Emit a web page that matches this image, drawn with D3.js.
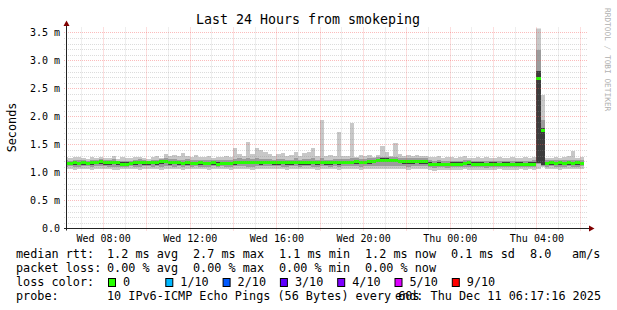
<!DOCTYPE html>
<html>
<head>
<meta charset="utf-8">
<script src="https://cdn.jsdelivr.net/npm/d3@7"></script>
<style>
  body { margin: 0; background: #fff; }
  text { font-family: "DejaVu Sans Mono", monospace; fill: #000; }
</style>
</head>
<body>
<div id="chart"></div>
<script>
// time window of the graph, 12 minute consolidation steps
var startTime = new Date(2025, 11, 10, 6, 17, 16),
    endTime = new Date(2025, 11, 11, 6, 17, 16),
    firstBin = new Date(2025, 11, 10, 6, 12, 0),
    stepMinutes = 12;

// smoke bands (ms): outer, middle, inner, and the median
var pingMax = [1.27,1.25,1.28,1.27,1.26,1.24,1.27,1.25, 1.28,1.26,1.25,1.29,1.24,1.27,1.26,1.25,
  1.27,1.28,1.26,1.24,1.27,1.29,1.26,1.33, 1.30,1.31,1.29,1.35,1.30,1.28,1.32,1.27,
  1.27,1.29,1.26,1.28,1.27,1.30,1.28,1.44, 1.33,1.30,1.55,1.33,1.44,1.41,1.37,1.33,
  1.30,1.33,1.35,1.29,1.31,1.36,1.30,1.34, 1.36,1.44,1.30,1.94,1.29,1.31,1.29,1.72,
  1.30,1.29,1.89,1.28,1.31,1.30,1.32,1.28, 1.31,1.48,1.36,1.29,1.52,1.33,1.30,1.31,
  1.30,1.31,1.29,1.30,1.28,1.27,1.29,1.26, 1.27,1.28,1.26,1.27,1.29,1.26,1.25,1.27,
  1.26,1.27,1.25,1.26,1.28,1.25,1.26,1.27, 1.26,1.25,1.27,1.26,1.28,3.58,2.38,1.26,
  1.25,1.27,1.26,1.28,1.29,1.38,1.26,1.27];
var pingHigh = [1.22,1.21,1.23,1.22,1.22,1.21,1.23,1.22, 1.24,1.22,1.22,1.24,1.21,1.21,1.21,1.21,
  1.23,1.24,1.22,1.21,1.23,1.23,1.24,1.26, 1.24,1.24,1.23,1.23,1.24,1.22,1.22,1.23,
  1.22,1.23,1.22,1.22,1.22,1.23,1.22,1.24, 1.25,1.24,1.25,1.24,1.25,1.24,1.24,1.24,
  1.23,1.24,1.24,1.23,1.23,1.25,1.23,1.24, 1.24,1.25,1.23,1.25,1.23,1.23,1.24,1.24,
  1.24,1.24,1.25,1.25,1.24,1.24,1.25,1.26, 1.27,1.28,1.28,1.27,1.27,1.26,1.25,1.25,
  1.25,1.26,1.25,1.25,1.22,1.21,1.22,1.20, 1.20,1.21,1.21,1.21,1.22,1.23,1.21,1.21,
  1.21,1.20,1.21,1.21,1.20,1.21,1.21,1.20, 1.21,1.21,1.20,1.21,1.22,3.18,1.94,1.22,
  1.23,1.22,1.23,1.22,1.23,1.23,1.23,1.22];
var pingInnerHigh = [1.19,1.19,1.20,1.19,1.20,1.19,1.20,1.21, 1.22,1.20,1.20,1.21,1.20,1.18,1.18,1.19,
  1.20,1.21,1.20,1.20,1.21,1.20,1.22,1.23, 1.20,1.21,1.20,1.19,1.20,1.19,1.19,1.20,
  1.19,1.19,1.20,1.18,1.19,1.19,1.19,1.20, 1.21,1.21,1.21,1.21,1.21,1.20,1.21,1.21,
  1.20,1.20,1.21,1.20,1.20,1.21,1.20,1.20, 1.20,1.21,1.20,1.21,1.20,1.20,1.21,1.20,
  1.21,1.21,1.21,1.22,1.21,1.21,1.22,1.23, 1.24,1.25,1.25,1.24,1.24,1.23,1.22,1.22,
  1.22,1.23,1.22,1.22,1.18,1.17,1.18,1.17, 1.17,1.18,1.18,1.18,1.19,1.20,1.18,1.18,
  1.18,1.17,1.18,1.18,1.17,1.18,1.18,1.17, 1.18,1.18,1.17,1.18,1.18,2.82,1.80,1.19,
  1.20,1.19,1.20,1.19,1.20,1.19,1.20,1.19];
var median = [1.16,1.16,1.17,1.16,1.17,1.16,1.17,1.18, 1.19,1.17,1.17,1.18,1.17,1.15,1.15,1.16,
  1.17,1.18,1.17,1.17,1.18,1.17,1.19,1.20, 1.17,1.18,1.17,1.16,1.17,1.16,1.16,1.17,
  1.16,1.16,1.17,1.15,1.16,1.16,1.16,1.17, 1.18,1.18,1.18,1.18,1.18,1.17,1.18,1.18,
  1.17,1.17,1.18,1.17,1.17,1.18,1.17,1.17, 1.17,1.18,1.17,1.18,1.17,1.17,1.18,1.17,
  1.18,1.18,1.18,1.19,1.18,1.18,1.19,1.20, 1.21,1.22,1.22,1.21,1.21,1.20,1.19,1.19,
  1.19,1.20,1.19,1.19,1.15,1.14,1.15,1.14, 1.14,1.15,1.15,1.15,1.16,1.17,1.15,1.15,
  1.15,1.14,1.15,1.15,1.14,1.15,1.15,1.14, 1.15,1.15,1.14,1.15,1.15,2.67,1.75,1.16,
  1.17,1.16,1.17,1.16,1.17,1.16,1.17,1.16];
var pingInnerLow = [1.13,1.13,1.14,1.13,1.14,1.13,1.14,1.15, 1.16,1.14,1.14,1.15,1.14,1.12,1.12,1.13,
  1.14,1.15,1.14,1.14,1.15,1.14,1.16,1.17, 1.14,1.15,1.14,1.13,1.14,1.13,1.13,1.14,
  1.13,1.13,1.14,1.12,1.13,1.13,1.13,1.14, 1.15,1.15,1.15,1.15,1.15,1.14,1.15,1.15,
  1.14,1.14,1.15,1.14,1.14,1.15,1.14,1.14, 1.14,1.15,1.14,1.15,1.14,1.14,1.15,1.14,
  1.15,1.15,1.15,1.16,1.15,1.15,1.16,1.17, 1.18,1.19,1.19,1.18,1.18,1.17,1.16,1.16,
  1.16,1.17,1.16,1.16,1.12,1.11,1.12,1.11, 1.11,1.12,1.12,1.12,1.13,1.14,1.12,1.12,
  1.12,1.11,1.12,1.12,1.11,1.12,1.12,1.11, 1.12,1.12,1.11,1.12,1.12,1.17,1.13,1.13,
  1.14,1.13,1.14,1.13,1.14,1.13,1.14,1.13];
var pingLow = [1.10,1.11,1.10,1.10,1.11,1.11,1.10,1.11, 1.11,1.11,1.10,1.09,1.10,1.10,1.10,1.11,
  1.10,1.10,1.11,1.11,1.10,1.11,1.10,1.11, 1.11,1.10,1.11,1.10,1.11,1.10,1.11,1.10,
  1.10,1.10,1.11,1.10,1.11,1.10,1.10,1.11, 1.11,1.11,1.10,1.10,1.11,1.11,1.11,1.11,
  1.11,1.11,1.10,1.10,1.11,1.11,1.10,1.11, 1.11,1.10,1.10,1.11,1.11,1.10,1.11,1.10,
  1.11,1.11,1.11,1.11,1.10,1.11,1.11,1.12, 1.11,1.12,1.12,1.11,1.12,1.11,1.11,1.10,
  1.11,1.11,1.12,1.11,1.09,1.08,1.09,1.09, 1.08,1.09,1.09,1.09,1.10,1.10,1.09,1.09,
  1.09,1.08,1.09,1.09,1.10,1.09,1.09,1.09, 1.09,1.10,1.09,1.10,1.09,1.15,1.12,1.10,
  1.11,1.10,1.10,1.10,1.11,1.10,1.10,1.11];
var pingMin = [1.06,1.07,1.05,1.06,1.06,1.07,1.05,1.06, 1.06,1.07,1.06,1.04,1.05,1.06,1.06,1.07,
  1.06,1.05,1.06,1.07,1.06,1.06,1.05,1.06, 1.07,1.06,1.06,1.05,1.06,1.06,1.07,1.06,
  1.06,1.05,1.06,1.06,1.07,1.06,1.05,1.06, 1.07,1.06,1.06,1.05,1.06,1.06,1.07,1.06,
  1.06,1.07,1.06,1.05,1.06,1.06,1.06,1.07, 1.06,1.06,1.05,1.06,1.07,1.06,1.06,1.05,
  1.06,1.07,1.06,1.06,1.05,1.06,1.06,1.07, 1.06,1.07,1.07,1.06,1.07,1.06,1.06,1.05,
  1.06,1.06,1.07,1.06,1.04,1.03,1.04,1.05, 1.04,1.05,1.04,1.05,1.06,1.05,1.04,1.05,
  1.05,1.04,1.05,1.05,1.06,1.05,1.04,1.05, 1.05,1.06,1.05,1.06,1.05,1.06,1.10,1.06,
  1.07,1.06,1.05,1.06,1.07,1.06,1.06,1.07];

// axis labels
var yTicks = [0, 0.5, 1.0, 1.5, 2.0, 2.5, 3.0, 3.5];
var yTickLabels = ["0.0", "0.5 m", "1.0 m", "1.5 m", "2.0 m", "2.5 m", "3.0 m", "3.5 m"];
var xTickLabels = ["Wed 08:00", "Wed 12:00", "Wed 16:00", "Wed 20:00", "Thu 00:00", "Thu 04:00"];
var yMax = 3.5714;

// legend
var rttStats = ["1.2 ms avg", "2.7 ms max", "1.1 ms min", "1.2 ms now", "0.1 ms sd"];
var lossStats = ["0.00 % avg", "0.00 % max", "0.00 % min", "0.00 % now"];
var lossLabels = ["0", "1/10", "2/10", "3/10", "4/10", "5/10", "9/10"];
var lossColors = ["#26ff00", "#00b8ff", "#0059ff", "#5e00ff", "#7e00ff", "#dd00ff", "#ff0000"];

var width = 617, height = 310;

var svg = d3.select("#chart")
    .append("svg")
    .attr("width", width)
    .attr("height", height);

var x = d3.scaleTime().domain([startTime, endTime]).range([66, 586]);
var y = d3.scaleLinear().domain([0, yMax]).range([228.5, 28.5]);

function binStart(i) { return new Date(firstBin.getTime() + i * stepMinutes * 60000); }

svg.append("clipPath").attr("id", "plot")
  .append("rect").attr("x", 66).attr("y", 28.5).attr("width", 520).attr("height", 200);

var data = median.map(function (m, i) {
  return { t0: binStart(i), t1: binStart(i + 1), max: pingMax[i], high: pingHigh[i],
           ih: pingInnerHigh[i], med: m, il: pingInnerLow[i], low: pingLow[i], min: pingMin[i] };
});

var smoke = svg.append("g").attr("clip-path", "url(#plot)").attr("shape-rendering", "crispEdges");

function band(lo, hi, color) {
  smoke.selectAll(null)
    .data(data)
    .enter()
    .append("rect")
    .attr("x", function (d) { return x(d.t0); })
    .attr("width", function (d) { return x(d.t1) - x(d.t0); })
    .attr("y", function (d) { return y(d[hi]); })
    .attr("height", function (d) { return y(d[lo]) - y(d[hi]); })
    .attr("fill", color);
}
band("min", "max", "#c8c8c8");
band("low", "high", "#9c9c9c");
band("il", "ih", "#3c3c3c");

// median, coloured by loss (all zero here)
smoke.selectAll(null)
  .data(data)
  .enter()
  .append("rect")
  .attr("x", function (d) { return x(d.t0); })
  .attr("width", function (d) { return x(d.t1) - x(d.t0); })
  .attr("y", function (d) { return y(d.med) - 1.5; })
  .attr("height", 3)
  .attr("fill", lossColors[0]);

// grid on top, like rrdtool
var minorColor = "rgba(140,140,140,0.3)", majorColor = "rgba(245,79,79,0.38)";
var grid = svg.append("g");
var minorY = d3.range(1, 36).map(function (v) { return v / 10; }).filter(function (v) { return v <= yMax; });
grid.selectAll(null).data(minorY).enter().append("line")
  .attr("x1", 64).attr("x2", 588)
  .attr("y1", function (d) { return Math.round(y(d)) + 0.5; })
  .attr("y2", function (d) { return Math.round(y(d)) + 0.5; })
  .attr("stroke", function (d) { return Math.abs(d * 2 - Math.round(d * 2)) < 1e-6 ? majorColor : minorColor; })
  .attr("stroke-dasharray", "1 1");

var hours = d3.timeHour.range(startTime, endTime);
grid.selectAll(null).data(hours).enter().append("line")
  .attr("x1", function (d) { return Math.round(x(d)) + 0.5; })
  .attr("x2", function (d) { return Math.round(x(d)) + 0.5; })
  .attr("y1", 230.5).attr("y2", 26.5)
  .attr("stroke", function (d) { return d.getHours() % 2 === 0 ? majorColor : minorColor; })
  .attr("stroke-dasharray", "1 1");

// axes
svg.append("line").attr("x1", 66.5).attr("x2", 66.5).attr("y1", 230.5).attr("y2", 24)
  .attr("stroke", "#222");
svg.append("line").attr("x1", 64).attr("x2", 590).attr("y1", 228.5).attr("y2", 228.5)
  .attr("stroke", "#222");
svg.append("path").attr("d", "M63.5,26L66.5,20.5L69.5,26Z").attr("fill", "#800000");
svg.append("path").attr("d", "M589,225.5L594.5,228.5L589,231.5Z").attr("fill", "#800000");

// y tick labels
svg.selectAll(null).data(yTicks).enter().append("text")
  .attr("x", 60)
  .attr("y", function (d) { return y(d) + 3.5; })
  .attr("text-anchor", "end")
  .style("font-size", "10px")
  .text(function (d, i) { return yTickLabels[i]; });

// x tick labels every 4 hours
var labelHours = hours.filter(function (d) { return d.getHours() % 4 === 0; });
svg.selectAll(null).data(labelHours).enter().append("text")
  .attr("x", function (d) { return x(d) + 0.5; })
  .attr("y", 242)
  .attr("text-anchor", "middle")
  .style("font-size", "10px")
  .text(function (d, i) { return xTickLabels[i]; });

// titles
svg.append("text").attr("x", 308).attr("y", 24).attr("text-anchor", "middle")
  .style("font-size", "13.3px").text("Last 24 Hours from smokeping");
svg.append("text").attr("transform", "translate(15.5,127.5) rotate(-90)").attr("text-anchor", "middle")
  .style("font-size", "11.8px").text("Seconds");
svg.append("text").attr("transform", "translate(605,8) rotate(90)")
  .style("font-size", "7.8px").style("fill", "#b0b0b0").text("RRDTOOL / TOBI OETIKER");

// legend
var leg = svg.append("g").style("font-size", "11.8px");
leg.append("text").attr("x", 16).attr("y", 258).text("median rtt:");
leg.selectAll(null).data(rttStats).enter().append("text")
  .attr("x", function (d, i) { return 107 + i * 86; }).attr("y", 258).text(function (d) { return d; });
leg.append("text").attr("x", 530).attr("y", 258).text("8.0");
leg.append("text").attr("x", 572).attr("y", 258).text("am/s");

leg.append("text").attr("x", 16).attr("y", 272).text("packet loss:");
leg.selectAll(null).data(lossStats).enter().append("text")
  .attr("x", function (d, i) { return 107 + i * 86; }).attr("y", 272).text(function (d) { return d; });

leg.append("text").attr("x", 16).attr("y", 286).text("loss color:");
leg.selectAll(null).data(lossLabels).enter().append("rect")
  .attr("x", function (d, i) { return 108.5 + i * 57.3; }).attr("y", 278.5)
  .attr("width", 7).attr("height", 8)
  .attr("fill", function (d, i) { return lossColors[i]; })
  .attr("stroke", "#000");
leg.selectAll(null).data(lossLabels).enter().append("text")
  .attr("x", function (d, i) { return 123 + i * 57.3; }).attr("y", 286).text(function (d) { return d; });

leg.append("text").attr("x", 16).attr("y", 300).text("probe:");
leg.append("text").attr("x", 107).attr("y", 300).text("10 IPv6-ICMP Echo Pings (56 Bytes) every 60s");
leg.append("text").attr("x", 601).attr("y", 300).attr("text-anchor", "end").text("end: Thu Dec 11 06:17:16 2025");
</script>
</body>
</html>
